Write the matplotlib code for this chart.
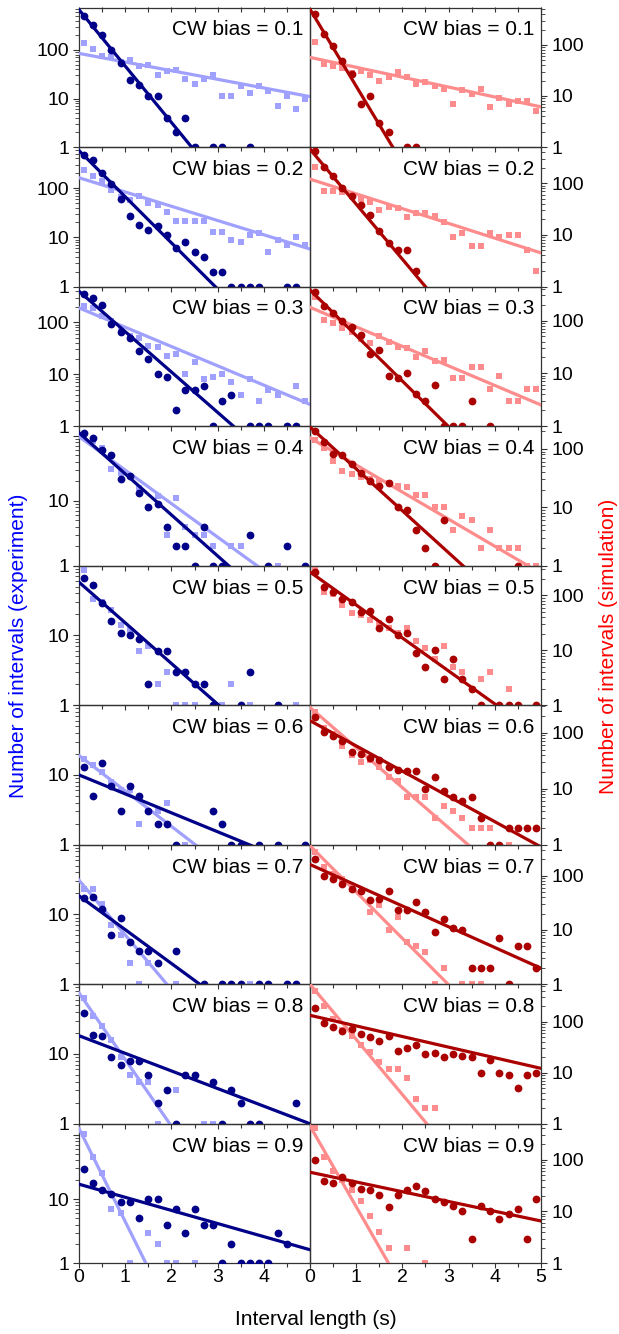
import numpy as np
import matplotlib
matplotlib.use("Agg")
import matplotlib.pyplot as plt
from matplotlib.ticker import FixedLocator, LogLocator, NullFormatter

plt.rcParams['font.family'] = ['Liberation Sans', 'DejaVu Sans']

# CW bias of each row of panels
bias = [0.1, 0.2, 0.3, 0.4, 0.5, 0.6, 0.7, 0.8, 0.9]

# bin centres of the interval-length histograms (s)
interval = [0.1, 0.3, 0.5, 0.7, 0.9, 1.1, 1.3, 1.5, 1.7, 1.9, 2.1, 2.3, 2.5,
            2.7, 2.9, 3.1, 3.3, 3.5, 3.7, 3.9, 4.1, 4.3, 4.5, 4.7, 4.9]

# experiment: CW intervals (dark) and CCW intervals (light); 0 = empty bin
exp_cw = [
    [490, 330, 204, 100, 53, 24, 19, 11, 11, 4, 2, 4, 1, 0, 1, 1, 0, 0, 1, 0, 0, 0, 0, 0, 0],
    [460, 370, 200, 120, 61, 27, 18, 14, 17, 11, 6, 8, 5, 4, 2, 2, 1, 1, 1, 1, 0, 0, 1, 1, 0],
    [355, 295, 218, 93, 65, 50, 28, 20, 10, 9, 2, 5, 5, 6, 1, 3, 4, 0, 1, 1, 1, 0, 1, 1, 0],
    [112, 94, 61, 51, 22, 24, 13, 8, 9, 4, 2, 2, 1, 4, 1, 1, 0, 0, 3, 0, 1, 0, 2, 0, 1],
    [66, 52, 29, 16, 11, 10, 9, 2, 6, 6, 3, 3, 2, 2, 1, 0, 0, 1, 3, 0, 0, 1, 0, 0, 0],
    [13, 5, 15, 7, 3, 7, 5, 3, 2, 2, 1, 0, 0, 0, 3, 2, 1, 1, 0, 1, 0, 1, 0, 0, 1],
    [17, 18, 12, 5, 9, 4, 3, 3, 2, 0, 3, 0, 0, 1, 0, 1, 1, 1, 0, 1, 1, 0, 1, 1, 0],
    [39, 19, 18, 9, 7, 8, 8, 5, 2, 3, 1, 5, 5, 0, 4, 1, 3, 2, 1, 1, 0, 0, 0, 2, 0],
    [29, 18, 14, 12, 9, 9, 5, 10, 10, 4, 7, 3, 7, 4, 4, 1, 2, 1, 1, 1, 1, 3, 2, 0, 0],
]
exp_ccw = [
    [137, 103, 75, 73, 57, 62, 47, 49, 30, 37, 38, 25, 20, 25, 30, 11, 11, 18, 13, 18, 14, 7, 11, 6, 10],
    [229, 173, 138, 93, 66, 56, 69, 50, 46, 32, 21, 21, 21, 21, 13, 13, 9, 8, 11, 12, 5, 9, 7, 10, 7],
    [203, 188, 130, 104, 72, 55, 50, 35, 33, 22, 25, 10, 17, 8, 9, 10, 7, 4, 8, 3, 5, 4, 0, 6, 3],
    [95, 85, 66, 31, 27, 24, 16, 0, 12, 3, 11, 4, 3, 3, 2, 0, 2, 2, 0, 0, 0, 1, 0, 0, 0],
    [88, 33, 30, 23, 14, 12, 6, 7, 2, 3, 1, 1, 1, 0, 0, 1, 2, 0, 1, 0, 0, 0, 0, 1, 0],
    [17, 14, 11, 8, 6, 6, 2, 3, 3, 4, 0, 1, 0, 0, 0, 0, 0, 0, 0, 0, 0, 0, 0, 0, 0],
    [23, 23, 14, 7, 5, 2, 1, 2, 0, 0, 1, 0, 0, 0, 0, 0, 0, 0, 1, 0, 0, 0, 0, 0, 0],
    [63, 35, 25, 16, 9, 5, 4, 4, 1, 0, 3, 0, 0, 1, 1, 0, 0, 0, 0, 0, 0, 0, 0, 0, 0],
    [101, 45, 25, 7, 6, 1, 0, 3, 2, 1, 1, 0, 1, 0, 0, 0, 0, 0, 0, 0, 0, 0, 0, 0, 0],
]

# simulation: CW intervals (dark) and CCW intervals (light)
sim_cw = [
    [400, 160, 94, 48, 27, 7, 10, 3, 2, 0, 1, 1, 0, 0, 0, 0, 0, 0, 0, 0, 0, 0, 0, 0, 0],
    [425, 204, 135, 80, 57, 38, 24, 12, 7, 5, 5, 2, 0, 0, 0, 0, 0, 0, 0, 0, 0, 0, 0, 0, 0],
    [353, 192, 138, 100, 75, 54, 23, 28, 9, 8, 10, 4, 3, 6, 1, 1, 1, 3, 0, 1, 0, 0, 0, 0, 0],
    [200, 130, 80, 77, 54, 39, 28, 23, 26, 10, 9, 4, 2, 1, 6, 0, 0, 0, 0, 0, 0, 0, 1, 0, 0],
    [268, 142, 115, 87, 75, 50, 53, 25, 38, 19, 21, 9, 5, 10, 3, 7, 3, 2, 1, 0, 1, 1, 1, 0, 1],
    [188, 101, 89, 72, 46, 42, 36, 32, 24, 22, 21, 21, 10, 16, 9, 7, 6, 7, 3, 1, 1, 2, 2, 2, 2],
    [203, 100, 85, 70, 57, 51, 35, 37, 51, 23, 23, 33, 21, 9, 16, 11, 10, 2, 2, 2, 7, 1, 5, 5, 2],
    [189, 93, 80, 66, 72, 56, 49, 42, 52, 27, 31, 35, 23, 24, 20, 23, 21, 20, 10, 18, 10, 9, 5, 9, 10],
    [96, 39, 35, 46, 35, 27, 26, 21, 12, 21, 26, 31, 25, 17, 15, 13, 10, 3, 13, 10, 7, 9, 11, 3, 17],
]
sim_ccw = [
    [114, 43, 38, 35, 28, 31, 26, 20, 24, 30, 23, 17, 19, 16, 14, 7, 13, 11, 14, 6, 9, 7, 8, 8, 5],
    [204, 72, 72, 69, 57, 49, 44, 30, 35, 33, 22, 27, 26, 23, 18, 9, 11, 6, 6, 11, 9, 10, 10, 5, 2],
    [283, 103, 89, 72, 60, 45, 37, 50, 40, 31, 30, 20, 27, 17, 18, 8, 8, 13, 13, 5, 9, 3, 3, 5, 5],
    [140, 104, 62, 42, 37, 33, 30, 28, 26, 23, 22, 16, 16, 10, 10, 4, 7, 6, 2, 4, 2, 2, 2, 1, 1],
    [308, 115, 107, 67, 48, 44, 35, 32, 26, 21, 26, 15, 11, 7, 12, 5, 4, 0, 3, 4, 0, 2, 0, 0, 0],
    [230, 120, 95, 59, 40, 30, 32, 24, 16, 14, 7, 7, 7, 3, 5, 4, 3, 2, 2, 2, 0, 1, 0, 0, 0],
    [270, 142, 107, 87, 57, 50, 21, 29, 10, 17, 6, 5, 4, 1, 2, 0, 1, 1, 1, 0, 0, 0, 0, 0, 0],
    [400, 206, 113, 68, 52, 35, 26, 16, 12, 12, 8, 3, 2, 2, 0, 0, 0, 0, 0, 0, 0, 0, 0, 0, 0],
    [410, 112, 60, 40, 26, 16, 8, 4, 2, 0, 2, 0, 1, 0, 0, 0, 0, 0, 0, 0, 0, 0, 0, 0, 0],
]

# single-exponential fits N(t) = A * exp(-t / tau); None = no fit drawn
exp_cw_amp = [676, 575, 398, 112, 58, 10, 18.5, 18.3, 17]
exp_cw_tau = [0.374, 0.464, 0.558, 0.686, 0.745, 1.60, 0.896, 1.72, 2.13]
exp_ccw_amp = [85, 162, 190, 98, None, 19, 31, 75, 125]
exp_ccw_tau = [2.44, 1.50, 1.167, 0.84, None, 0.855, 0.554, 0.455, 0.30]
sim_cw_amp = [500, 455, 380, 237, 268, 164, 160, 133, 57]
sim_cw_tau = [0.288, 0.408, 0.503, 0.605, 0.722, 0.963, 1.137, 2.09, 2.31]
sim_ccw_amp = [57, 120, 178, 154, None, 283, 355, 540, 445]
sim_ccw_tau = [2.24, 1.52, 1.174, 0.936, None, 0.606, 0.509, 0.402, 0.279]

# upper y limit of each panel
exp_ymax = [750, 680, 490, 142, 98, 21, 36, 79, 148]
sim_ymax = [540, 500, 440, 245, 350, 310, 370, 540, 490]

# which y tick labels each column shows
exp_ylabels = [['1', '10', '100']] * 3 + [['1', '10', '']] * 6
sim_ylabels = [['1', '10', '100']] * 9

NAVY = '#000088'
LAVENDER = '#a0a0ff'
DARKRED = '#aa0000'
SALMON = '#ff8c8c'
SPINE = '#333333'

W, H = 619, 1334
fig, axes = plt.subplots(9, 2, figsize=(W / 100, H / 100), dpi=100)
fig.subplots_adjust(left=79 / W, right=541 / W, top=1 - 7.5 / H,
                    bottom=1 - 1263.3 / H, hspace=0, wspace=0)

t = np.array(interval)
t_fit = np.linspace(0, 5, 60)


def draw_panel(ax, cw, ccw, cw_fit, ccw_fit, dark, light, ymax, ylabels, side, row):
    ax.set_facecolor('none')
    ax.set_yscale('log')
    cw = np.array(cw, dtype=float)
    ccw = np.array(ccw, dtype=float)
    m = ccw > 0
    ax.plot(t[m], ccw[m], 's', color=light, ms=5.0, mec=light, mew=0, zorder=2)
    if ccw_fit[0] is not None:
        ax.plot(t_fit, ccw_fit[0] * np.exp(-t_fit / ccw_fit[1]), '-',
                color=light, lw=2.3, zorder=3)
    m = cw > 0
    ax.plot(t[m], cw[m], 'o', color=dark, ms=5.6, mec=dark, mew=0, zorder=4)
    if cw_fit[0] is not None:
        ax.plot(t_fit, cw_fit[0] * np.exp(-t_fit / cw_fit[1]), '-',
                color=dark, lw=2.3, zorder=5)

    ax.set_xlim(0, 5)
    ax.set_ylim(1, ymax)

    # x ticks
    if row == 8:
        xl = ['0', '1', '2', '3', '4', ''] if side == 'left' else ['0', '1', '2', '3', '4', '5']
    else:
        xl = [''] * 6
    ax.set_xticks([0, 1, 2, 3, 4, 5], xl)
    ax.xaxis.set_minor_locator(FixedLocator([0.5, 1.5, 2.5, 3.5, 4.5]))
    ax.tick_params(axis='x', which='major', direction='out', length=3.8,
                   width=0.8, color=SPINE, labelsize=14, pad=0.5)
    ax.tick_params(axis='x', which='minor', direction='out', length=3.0,
                   width=0.8, color=SPINE)

    # y ticks
    ax.set_yticks([1, 10, 100], ylabels)
    ax.yaxis.set_minor_locator(LogLocator(base=10, subs=np.arange(2, 10), numticks=20))
    ax.yaxis.set_minor_formatter(NullFormatter())
    if side == 'left':
        ax.yaxis.tick_left()
        pad = 2.5
    else:
        ax.yaxis.tick_right()
        pad = 3.0
    ax.tick_params(axis='y', which='major', direction='out', length=4.5,
                   width=0.8, color=SPINE, labelsize=14, pad=pad)
    ax.tick_params(axis='y', which='minor', direction='out', length=2.6,
                   width=0.6, color=SPINE)

    for s in ax.spines.values():
        s.set_color(SPINE)
        s.set_linewidth(0.9)

    if row == 0:
        top = ax.secondary_xaxis('top')
        top.set_xticks([0, 1, 2, 3, 4, 5], [''] * 6)
        top.xaxis.set_minor_locator(FixedLocator([0.5, 1.5, 2.5, 3.5, 4.5]))
        top.tick_params(axis='x', which='both', direction='in', length=3.8,
                        width=0.8, color=SPINE)
        top.spines['top'].set_visible(False)

    ax.text(0.972, 0.80, f'CW bias = {bias[row]}', transform=ax.transAxes,
            ha='right', va='baseline', fontsize=15, zorder=6)


for r in range(9):
    draw_panel(axes[r][0], exp_cw[r], exp_ccw[r],
               (exp_cw_amp[r], exp_cw_tau[r]), (exp_ccw_amp[r], exp_ccw_tau[r]),
               NAVY, LAVENDER, exp_ymax[r], exp_ylabels[r], 'left', r)
    draw_panel(axes[r][1], sim_cw[r], sim_ccw[r],
               (sim_cw_amp[r], sim_cw_tau[r]), (sim_ccw_amp[r], sim_ccw_tau[r]),
               DARKRED, SALMON, sim_ymax[r], sim_ylabels[r], 'right', r)

# axis titles
ymid = 1 - 646 / H
fig.text(19 / W, ymid, 'Number of intervals (experiment)', rotation=90,
         ha='center', va='center', fontsize=15, color='#0000ff')
fig.text(609 / W, ymid, 'Number of intervals (simulation)', rotation=90,
         ha='center', va='center', fontsize=15, color='#ff0000')
fig.text(316 / W, 1 - 1325 / H, 'Interval length (s)', ha='center',
         va='baseline', fontsize=15)

fig.savefig('out.png', dpi=100)
